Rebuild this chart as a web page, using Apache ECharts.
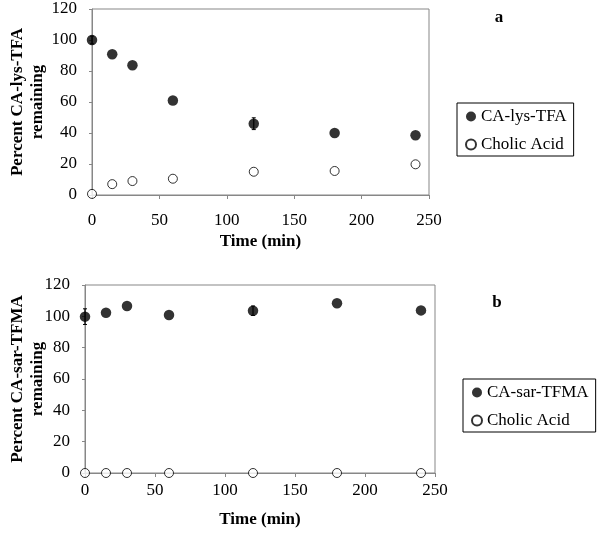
<!DOCTYPE html>
<html>
<head>
<meta charset="utf-8">
<script src="https://cdn.jsdelivr.net/npm/echarts@6/dist/echarts.min.js"></script>
<style>
html,body{margin:0;padding:0;background:#fff;}
#chart{width:600px;height:533px;}
</style>
</head>
<body>
<div id="chart"></div>
<script>
const timeMin = [0, 15, 30, 60, 120, 180, 240];
const caLysTfa = [100, 90.8, 83.7, 61, 46, 40, 38.5];
const caLysTfaErr = [2.5, 0, 0, 0, 3.8, 0, 0];
const cholicAcidA = [0.7, 7, 9, 10.5, 15, 15.5, 19.8];
const caSarTfma = [99.8, 102.3, 106.6, 100.8, 103.6, 108.3, 103.8];
const caSarTfmaErr = [5, 0, 0, 0, 3, 0, 0];
const cholicAcidB = [0, 0, 0, 0, 0, 0, 0];
const xTicks = [0, 50, 100, 150, 200, 250];
const yTicks = [0, 20, 40, 60, 80, 100, 120];

const FONT = "'Liberation Serif','Times New Roman',serif";
const GREY = '#878787';

function pairs(xs, ys) { return xs.map((x, i) => [x, ys[i]]); }
function errData(xs, ys, es) { return xs.map((x, i) => [x, ys[i], es[i]]); }

function errRender(params, api) {
  const x = api.value(0), y = api.value(1), e = api.value(2);
  if (!e) return null;
  const p1 = api.coord([x, y - e]);
  const p2 = api.coord([x, y + e]);
  const w = 2;
  return {
    type: 'group',
    children: [
      {type: 'line', shape: {x1: p1[0], y1: p1[1], x2: p2[0], y2: p2[1]}, style: {stroke: '#000', lineWidth: 1.2}},
      {type: 'line', shape: {x1: p1[0] - w, y1: p1[1], x2: p1[0] + w, y2: p1[1]}, style: {stroke: '#000', lineWidth: 1}},
      {type: 'line', shape: {x1: p2[0] - w, y1: p2[1], x2: p2[0] + w, y2: p2[1]}, style: {stroke: '#000', lineWidth: 1}}
    ]
  };
}

function xAxisDef(gridIndex, labelMargin) {
  return {
    gridIndex: gridIndex, type: 'value', min: xTicks[0], max: xTicks[xTicks.length - 1], interval: 50,
    name: 'Time (min)', nameLocation: 'middle', nameGap: 38, nameMoveOverlap: false,
    nameTextStyle: {fontFamily: FONT, fontSize: 17, fontWeight: 'bold', color: '#000'},
    axisLine: {show: true, lineStyle: {color: GREY, width: 1}},
    axisTick: {show: true, length: 4, lineStyle: {color: GREY}},
    axisLabel: {fontFamily: FONT, fontSize: 17, color: '#000', margin: labelMargin},
    splitLine: {show: false}
  };
}
function yAxisDef(gridIndex, name, nameGap) {
  return {
    gridIndex: gridIndex, type: 'value', min: yTicks[0], max: yTicks[yTicks.length - 1], interval: 20,
    name: name, nameLocation: 'middle', nameGap: nameGap, nameMoveOverlap: false,
    nameTextStyle: {fontFamily: FONT, fontSize: 17, fontWeight: 'bold', color: '#000', lineHeight: 20},
    axisLine: {show: true, lineStyle: {color: GREY, width: 1}},
    axisTick: {show: true, length: 3, lineStyle: {color: GREY}},
    axisLabel: {fontFamily: FONT, fontSize: 17, color: '#000', margin: 15},
    splitLine: {show: false}
  };
}

const filled = {color: '#000'};
const open = {color: '#fff', borderColor: '#000', borderWidth: 1};

const chart = echarts.init(document.getElementById('chart'));
chart.setOption({
  animation: false,
  backgroundColor: '#fff',
  grid: [
    {left: 92, top: 9, width: 337, height: 186, show: true, borderColor: GREY, borderWidth: 1, containLabel: false, outerBoundsMode: 'none'},
    {left: 85, top: 285, width: 350, height: 188, show: true, borderColor: GREY, borderWidth: 1, containLabel: false, outerBoundsMode: 'none'}
  ],
  xAxis: [xAxisDef(0, 17), xAxisDef(1, 9)],
  yAxis: [
    yAxisDef(0, 'Percent CA-lys-TFA\nremaining', 44),
    yAxisDef(1, 'Percent CA-sar-TFMA\nremaining', 37)
  ],
  legend: [
    {
      data: ['CA-lys-TFA', 'Cholic Acid'], orient: 'vertical', left: 457, top: 103,
      borderColor: '#000', borderWidth: 1, padding: [5, 7, 3, 8], itemGap: 11,
      itemWidth: 10, itemHeight: 10, selectedMode: false,
      textStyle: {fontFamily: FONT, fontSize: 17, color: '#000'}
    },
    {
      data: ['CA-sar-TFMA', 'Cholic Acid'], orient: 'vertical', left: 463, top: 379,
      borderColor: '#000', borderWidth: 1, padding: [5, 7, 3, 8], itemGap: 11,
      itemWidth: 10, itemHeight: 10, selectedMode: false,
      textStyle: {fontFamily: FONT, fontSize: 17, color: '#000'}
    }
  ],
  graphic: [
    {type: 'text', x: 499, y: 18, style: {text: 'a', font: 'bold 17px ' + FONT, fill: '#000', textAlign: 'center', textVerticalAlign: 'middle'}},
    {type: 'text', x: 497, y: 303, style: {text: 'b', font: 'bold 17px ' + FONT, fill: '#000', textAlign: 'center', textVerticalAlign: 'middle'}}
  ],
  series: [
    {type: 'custom', name: 'errA', xAxisIndex: 0, yAxisIndex: 0, renderItem: errRender, data: errData(timeMin, caLysTfa, caLysTfaErr), z: 1},
    {type: 'scatter', name: 'CA-lys-TFA', xAxisIndex: 0, yAxisIndex: 0, symbol: 'circle', symbolSize: 10.5, itemStyle: filled, data: pairs(timeMin, caLysTfa), clip: false, z: 3},
    {type: 'scatter', name: 'Cholic Acid', xAxisIndex: 0, yAxisIndex: 0, symbol: 'circle', symbolSize: 9, itemStyle: open, data: pairs(timeMin, cholicAcidA), clip: false, z: 3},
    {type: 'custom', name: 'errB', xAxisIndex: 1, yAxisIndex: 1, renderItem: errRender, data: errData(timeMin, caSarTfma, caSarTfmaErr), z: 1},
    {type: 'scatter', name: 'CA-sar-TFMA', xAxisIndex: 1, yAxisIndex: 1, symbol: 'circle', symbolSize: 10.5, itemStyle: filled, data: pairs(timeMin, caSarTfma), clip: false, z: 3},
    {type: 'scatter', name: 'Cholic Acid', xAxisIndex: 1, yAxisIndex: 1, symbol: 'circle', symbolSize: 9, itemStyle: open, data: pairs(timeMin, cholicAcidB), clip: false, z: 3}
  ]
});
</script>
</body>
</html>
